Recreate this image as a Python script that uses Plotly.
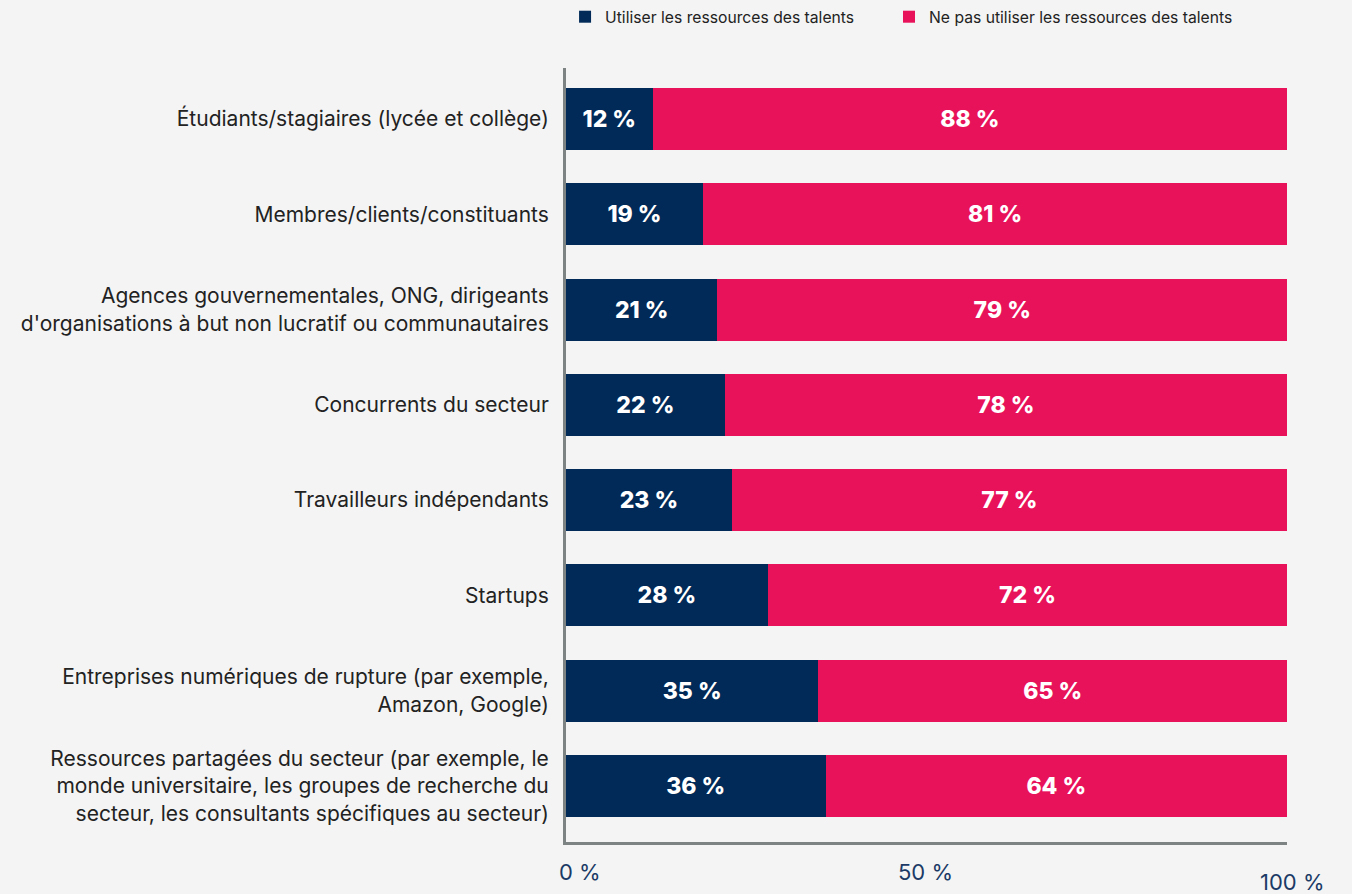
import plotly.graph_objects as go

categories = [
    "Étudiants/stagiaires (lycée et collège)",
    "Membres/clients/constituants",
    "Agences gouvernementales, ONG, dirigeants<br>d'organisations à but non lucratif ou communautaires",
    "Concurrents du secteur",
    "Travailleurs indépendants",
    "Startups",
    "Entreprises numériques de rupture (par exemple,<br>Amazon, Google)",
    "Ressources partagées du secteur (par exemple, le<br>monde universitaire, les groupes de recherche du<br>secteur, les consultants spécifiques au secteur)",
]
use_vals = [12, 19, 21, 22, 23, 28, 35, 36]
not_use_vals = [88, 81, 79, 78, 77, 72, 65, 64]
series_names = ["Utiliser les ressources des talents", "Ne pas utiliser les ressources des talents"]
tick_vals = [0, 50, 100]
tick_labels = ["0 %", "50 %", "100 %"]

NAVY = "#012a58"
PINK = "#e8125a"
BG = "#f4f4f4"

cats = categories[::-1]
u = use_vals[::-1]
n = not_use_vals[::-1]

label_font = dict(family="Inter", size=23, color="white", weight=800)

fig = go.Figure()
fig.add_trace(go.Bar(
    y=cats, x=u, orientation="h", name=series_names[0], legend="legend",
    marker=dict(color=NAVY, line=dict(width=0)),
    text=[f"{v} %" for v in u], textposition="inside", insidetextanchor="middle",
    textfont=label_font, insidetextfont=label_font,
    constraintext="none", hoverinfo="skip",
))
fig.add_trace(go.Bar(
    y=cats, x=n, orientation="h", name=series_names[1], legend="legend2",
    marker=dict(color=PINK, line=dict(width=0)),
    text=[f"{v} %" for v in n], textposition="inside", insidetextanchor="middle",
    textfont=label_font, insidetextfont=label_font,
    constraintext="none", hoverinfo="skip",
))

for v, lab in zip(tick_vals, tick_labels):
    fig.add_annotation(
        x=v, xref="x", y=0, yref="paper", text=lab, showarrow=False,
        yanchor="middle", xanchor="center",
        xshift=14 if v == 0 else (5 if v == 100 else -1),
        yshift=-30 if v != 100 else -40,
        font=dict(family="Inter", size=22, color="#1b3a66"),
    )

legend_common = dict(
    orientation="h", xanchor="left", y=1.0, yanchor="top", yref="container",
    font=dict(family="Inter", size=15.7, color="#222222"),
    bgcolor="rgba(0,0,0,0)",
)

fig.update_layout(
    barmode="stack",
    bargap=0.35,
    width=1352, height=894,
    paper_bgcolor=BG, plot_bgcolor=BG,
    margin=dict(l=566, r=65, t=68, b=52),
    font=dict(family="Inter", color="#222222"),
    showlegend=True,
    legend=dict(x=-0.0013, **legend_common),
    legend2=dict(x=0.448, **legend_common),
    xaxis=dict(range=[0, 100], showgrid=False, zeroline=False, showticklabels=False,
               showline=True, linecolor="#7d8282", linewidth=3, fixedrange=True),
    yaxis=dict(range=[-0.588, 7.535], showgrid=False, zeroline=False,
               showline=True, linecolor="#7d8282", linewidth=3,
               tickfont=dict(family="Inter", size=21, color="#222222"),
               ticks="", ticklabelstandoff=10, automargin=False),
)

fig.write_html("out.html")
